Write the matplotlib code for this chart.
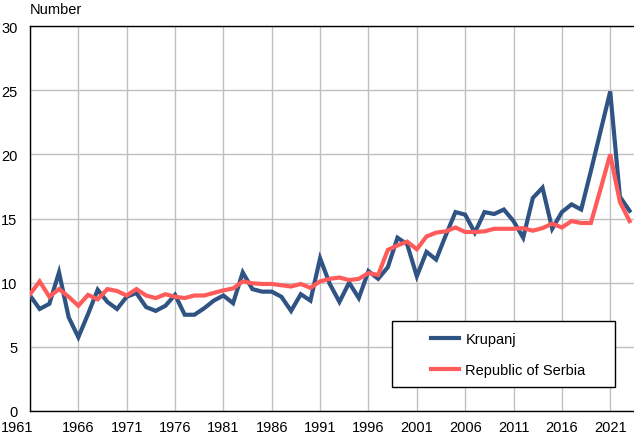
import matplotlib
matplotlib.use("Agg")
import matplotlib.pyplot as plt
from matplotlib.patches import Rectangle
from matplotlib.transforms import ScaledTranslation

plt.rcParams['font.family'] = ['Liberation Sans', 'DejaVu Sans']
plt.rcParams['font.size'] = 10.5

years = list(range(1961, 2024))
krupanj = [9.0, 7.95, 8.35, 10.8, 7.3, 5.75, 7.55, 9.45, 8.5, 7.95,
           8.9, 9.2, 8.1, 7.8, 8.2, 9.05, 7.5, 7.5, 8.0, 8.6,
           9.0, 8.4, 10.8, 9.5, 9.3, 9.3, 8.9, 7.8, 9.1, 8.6,
           11.9, 9.9, 8.5, 10.0, 8.8, 10.9, 10.3, 11.2, 13.5, 13.0,
           10.5, 12.4, 11.8, 13.7, 15.5, 15.3, 13.9, 15.5, 15.35, 15.7,
           14.8, 13.5, 16.6, 17.4, 14.2, 15.5, 16.1, 15.7, 18.7, 21.8,
           24.9, 16.7, 15.6]
serbia = [9.1, 10.1, 8.9, 9.5, 8.9, 8.2, 9.05, 8.7, 9.5, 9.35,
          9.0, 9.5, 9.0, 8.8, 9.1, 8.9, 8.8, 9.0, 9.0, 9.2,
          9.4, 9.55, 10.1, 9.95, 9.9, 9.9, 9.8, 9.7, 9.9, 9.6,
          10.1, 10.3, 10.4, 10.2, 10.3, 10.75, 10.6, 12.55, 12.9, 13.2,
          12.6, 13.6, 13.9, 14.0, 14.3, 13.95, 13.95, 14.0, 14.2, 14.2,
          14.2, 14.25, 14.05, 14.25, 14.6, 14.3, 14.8, 14.65, 14.65, 17.3,
          20.0, 16.3, 14.8]
xticks = list(range(1961, 2024, 5))
yticks = [0, 5, 10, 15, 20, 25, 30]
series_names = ['Krupanj', 'Republic of Serbia']

W, H = 634, 435
fig = plt.figure(figsize=(W / 100, H / 100), dpi=100)
ax = fig.add_axes([30 / W, 23 / H, (W - 30) / W, (412 - 27) / H])

ax.plot(years, krupanj, color='#2f5483', lw=3.0, label=series_names[0],
        solid_joinstyle='miter', zorder=3)
ax.plot(years, serbia, color='#ff5b5b', lw=3.0, label=series_names[1],
        solid_joinstyle='miter', zorder=3)

ax.set_xlim(1961, 2023.46)
ax.set_ylim(0, 30)
ax.set_xticks(xticks)
ax.set_yticks(yticks)
ax.grid(True, color='#c0c0c0', lw=1.0)
ax.set_axisbelow(True)
ax.tick_params(length=0, pad=6.3, labelsize=10.5)
ax.tick_params(axis='y', pad=9)
for s in ['left', 'bottom', 'top']:
    ax.spines[s].set_color('black')
    ax.spines[s].set_linewidth(1.0)
ax.spines['right'].set_visible(False)

fig.canvas.draw()
lab0 = ax.get_xticklabels()[0]
lab0.set_transform(lab0.get_transform() + ScaledTranslation(-13 / 100, 0, fig.dpi_scale_trans))

fig.text(30 / W, 1 - 10 / H, 'Number', ha='left', va='center', fontsize=10.5)

# legend box
fig.patches.append(Rectangle((392 / W, 1 - 388 / H), (615 - 392) / W, (388 - 322) / H,
                             transform=fig.transFigure, facecolor='white',
                             edgecolor='black', lw=1.0, zorder=4))
leg = fig.legend(loc='upper left', bbox_to_anchor=(431 / W, 1 - 333 / H),
                 frameon=False, borderpad=0, borderaxespad=0, handlelength=1.95,
                 handletextpad=0.4, labelspacing=1.2, fontsize=10.5)
leg.set_zorder(5)

fig.savefig('out.png', dpi=100)
